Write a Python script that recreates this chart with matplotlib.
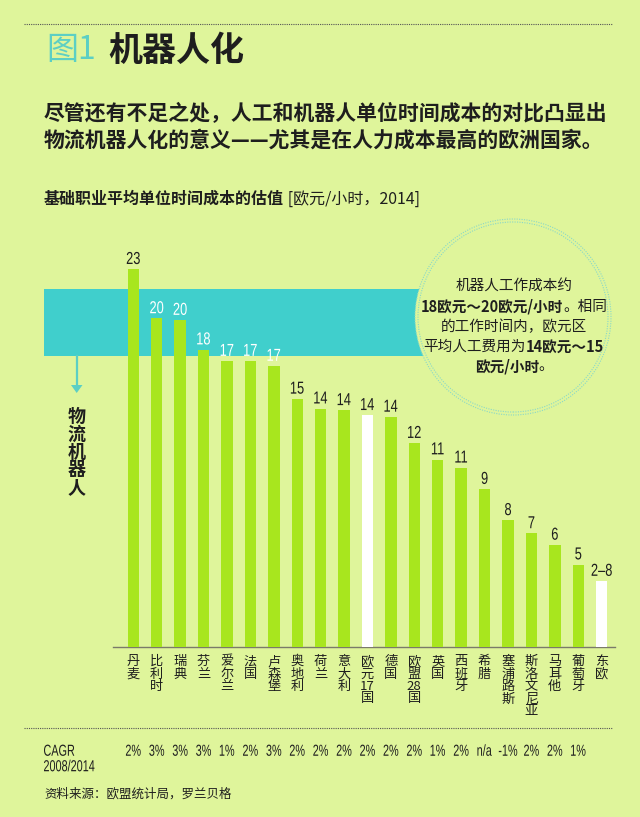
import re
import matplotlib
matplotlib.use('Agg')
import matplotlib.pyplot as plt
from matplotlib.patches import Rectangle, Ellipse, Polygon, PathPatch
from matplotlib.lines import Line2D
from matplotlib.textpath import TextPath
from matplotlib.font_manager import FontProperties
import matplotlib.transforms as mtrans

CJK = ['Noto Sans CJK SC', 'DejaVu Sans']
plt.rcParams['font.family'] = CJK

# ---------------- data ----------------
categories = ['丹麦', '比利时', '瑞典', '芬兰', '爱尔兰', '法国', '卢森堡', '奥地利', '荷兰',
              '意大利', '欧元17国', '德国', '欧盟28国', '英国', '西班牙', '希腊', '塞浦路斯',
              '斯洛文尼亚', '马耳他', '葡萄牙', '东欧']
cost = [23.0, 20.0, 19.9, 18.1, 17.4, 17.4, 17.1, 15.1, 14.5, 14.4, 14.1, 14.0,
        12.4, 11.4, 10.9, 9.6, 7.7, 6.9, 6.2, 5.0, 4.0]
value_labels = ['23', '20', '20', '18', '17', '17', '17', '15', '14', '14', '14', '14',
                '12', '11', '11', '9', '8', '7', '6', '5', '2–8']
aggregates = ['欧元17国', '东欧']
cagr = ['2%', '3%', '3%', '3%', '1%', '2%', '3%', '2%', '2%', '2%', '2%', '2%', '2%',
        '1%', '2%', 'n/a', '-1%', '2%', '2%', '1%']
robot_band = (17.7, 21.8)   # band drawn for robot cost per hour

# ---------------- style ----------------
BG = '#DFF59B'
BAR = '#A8E61E'
TEAL = '#40CFCC'
TEAL_L = '#5CCFC4'
DARK = '#1E1E1E'

W, H = 640, 817
DPI = 100
fig = plt.figure(figsize=(W / DPI, H / DPI), dpi=DPI, facecolor=BG)


def fx(x):
    return x / W


def fy(y):
    return 1 - y / H


NFP = FontProperties(family='Liberation Sans')


def narrow_text(xp, yp, s, size, ha='center', color=DARK, sx=0.78, zorder=6):
    """Condensed text drawn as a path; xp, yp are display pixels (yp = vertical centre)."""
    tp = TextPath((0, 0), s, size=size, prop=NFP)
    bb = tp.get_extents()
    k = DPI / 72.0
    cap = 0.72 * size
    if ha == 'center':
        dx = -(bb.x0 + bb.width / 2)
    else:
        dx = -bb.x0
    tr = mtrans.Affine2D().translate(dx, -cap / 2).scale(sx * k, k).translate(xp, yp)
    p = PathPatch(tp, transform=tr, facecolor=color, edgecolor='none', zorder=zorder)
    fig.patches.append(p)


# main axes
left, right, base, top = 113, 615, 646.7, 220
ax = fig.add_axes([fx(left), fy(base), (right - left) / W, (base - top) / H])
ax.set_facecolor('none')
n = len(categories)
pitch = 23.42
x0 = 133.3
ax.set_xlim(-(x0 - left) / pitch, (right - x0) / pitch)
ax.set_ylim(0, 26)
for s in ['top', 'right', 'left']:
    ax.spines[s].set_visible(False)
ax.spines['bottom'].set_color('#7A7A6A')
ax.spines['bottom'].set_linewidth(1.0)
ax.set_xticks([])
ax.set_yticks([])

xs = list(range(n))
colors = ['white' if c in aggregates else BAR for c in categories]
ax.bar(xs, cost, width=0.49, color=colors, zorder=3)

# teal band (robot cost) — x in figure, y in data
blend = mtrans.blended_transform_factory(fig.transFigure, ax.transData)
band = Rectangle((fx(44), robot_band[0]), fx(440) - fx(44), robot_band[1] - robot_band[0],
                 transform=blend, facecolor=TEAL, edgecolor='none', zorder=-5)
fig.patches.append(band)

# value labels
lab_off_px = 11.5
lo = ax.transData.transform((0, robot_band[0]))[1]
hi = ax.transData.transform((0, robot_band[1]))[1]
for i, (v, lab) in enumerate(zip(cost, value_labels)):
    px, py = ax.transData.transform((i, v))
    ly = py + lab_off_px
    col = 'white' if lo <= ly <= hi else DARK
    narrow_text(px, ly, lab, 12.5, color=col, sx=0.74)

# category labels (vertical stacking)
for i, c in enumerate(categories):
    parts = re.findall(r'\d+|.', c)
    for k, p in enumerate(parts):
        ax.annotate(p, (i, 0), xytext=(0, -(15 + 12.4 * k) * 0.72),
                    textcoords='offset points', ha='center', va='center',
                    fontsize=9.5, color=DARK, annotation_clip=False)

# CAGR row
ycagr = H - 750
for i, g in enumerate(cagr):
    px = ax.transData.transform((i, 0))[0]
    narrow_text(px, ycagr, g, 11.5, color=DARK, sx=0.68)
narrow_text(44, ycagr, 'CAGR', 11.5, ha='left', sx=0.68)
narrow_text(44, H - 765.5, '2008/2014', 11.5, ha='left', sx=0.68)

# dotted rules
for yy in (24, 728):
    fig.add_artist(Line2D([fx(24), fx(612)], [fy(yy), fy(yy)], transform=fig.transFigure,
                          color='#555555', lw=0.8, linestyle=(0, (1, 1))))

# title
fig.text(fx(46), fy(50), '图1', ha='left', va='center', fontsize=23, color=TEAL_L)
fig.text(fx(108), fy(50), '机器人化', ha='left', va='center', fontsize=24.5,
         weight='bold', color=DARK)
fig.text(fx(44), fy(114), '尽管还有不足之处，人工和机器人单位时间成本的对比凸显出',
         ha='left', va='center', fontsize=15, weight='bold', color=DARK)
fig.text(fx(44), fy(140), '物流机器人化的意义——尤其是在人力成本最高的欧洲国家。',
         ha='left', va='center', fontsize=15, weight='bold', color=DARK)

renderer = fig.canvas.get_renderer()


def chain(parts, x, y, ha='left', size=10.5, color=DARK):
    texts = []
    for s, w in parts:
        t = fig.text(0, fy(y), s, ha='left', va='center', fontsize=size,
                     weight=w, color=color)
        texts.append(t)
    widths = [t.get_window_extent(renderer).width for t in texts]
    total = sum(widths)
    cur = x - total / 2 if ha == 'center' else x
    for t, wd in zip(texts, widths):
        t.set_x(fx(cur))
        cur += wd


chain([('基础职业平均单位时间成本的估值', 'bold'), (' [欧元/小时，2014]', 'normal')],
      44, 199, size=11.5)

# circle callout
cx, cy, r = 513, 317, 98
circ = Ellipse((fx(cx), fy(cy)), 2 * r / W, 2 * r / H, transform=fig.transFigure,
               facecolor=BG, edgecolor='#8AD8C8', lw=0.8, linestyle=(0, (1, 1.2)), zorder=2)
fig.patches.append(circ)
circ2 = Ellipse((fx(cx), fy(cy)), 2 * (r - 3) / W, 2 * (r - 3) / H, transform=fig.transFigure,
                facecolor='none', edgecolor='#8AD8C8', lw=0.8, linestyle=(0, (1, 1.2)), zorder=2)
fig.patches.append(circ2)

lines = [
    [('机器人工作成本约', 'normal')],
    [('18欧元～20欧元/小时', 'bold'), ('。相同', 'normal')],
    [('的工作时间内，欧元区', 'normal')],
    [('平均人工费用为', 'normal'), ('14欧元～15', 'bold')],
    [('欧元/小时', 'bold'), ('。', 'normal')],
]
for k, ln in enumerate(lines):
    chain(ln, 514, 287 + 19.8 * k, ha='center', size=10.5)

# arrow + vertical label
fig.add_artist(Line2D([fx(76.7), fx(76.7)], [fy(356), fy(386)], transform=fig.transFigure,
                      color=TEAL_L, lw=1.6))
tri = Polygon([[fx(71), fy(385)], [fx(82.5), fy(385)], [fx(76.7), fy(393)]],
              closed=True, transform=fig.transFigure, facecolor=TEAL_L, edgecolor='none')
fig.patches.append(tri)
for k, ch in enumerate('物流机器人'):
    fig.text(fx(76.7), fy(416 + 18 * k), ch, ha='center', va='center', fontsize=13,
             weight='bold', color=DARK)

# source
fig.text(fx(44), fy(794), '资料来源：欧盟统计局，罗兰贝格', ha='left', va='center',
         fontsize=9, color=DARK)

fig.savefig('out.png', dpi=DPI, facecolor=BG)
